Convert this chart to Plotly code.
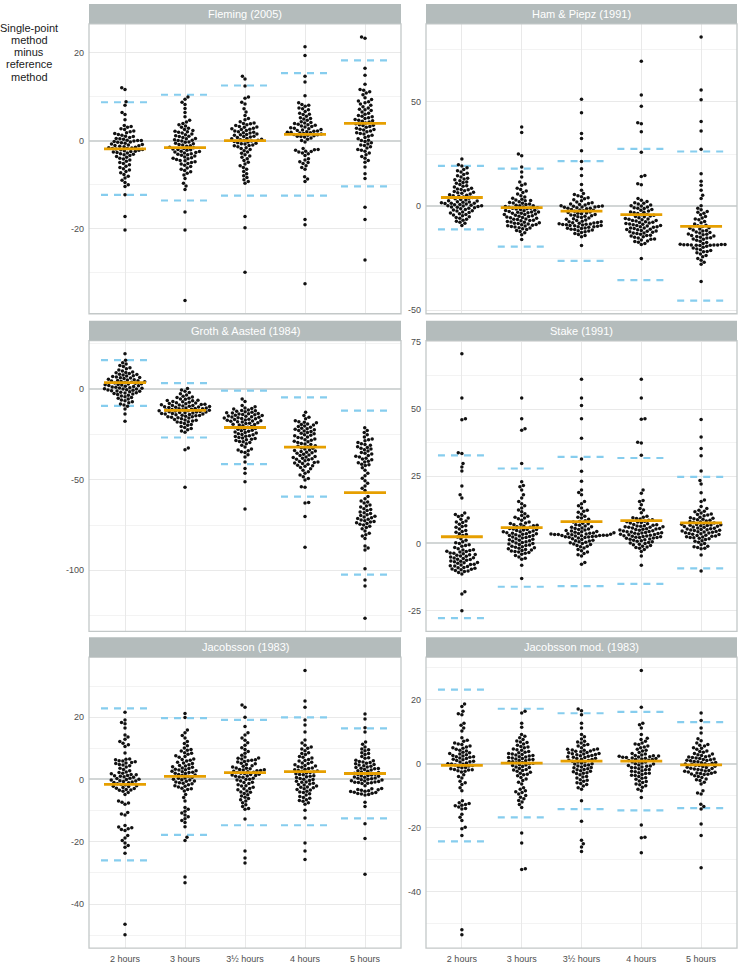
import plotly.graph_objects as go

W, H = 739, 964

PANELS = ['Fleming (2005)', 'Ham & Piepz (1991)', 'Groth & Aasted (1984)',
          'Stake (1991)', 'Jacobsson (1983)', 'Jacobsson mod. (1983)']
TIMES = ['2 hours', '3 hours', '3½ hours', '4 hours', '5 hours']

# ---- Fleming (2005) ----
fleming_2h = [12.0, 11.6, 8.8, 8.0, 6.4, 5.9, 4.7, 3.4, 3.2, 3.0, 2.7, 2.5, 2.2, 2.0, 1.8, 1.6, 1.4, 1.2, 1.0, 0.9,
              0.7, 0.5, 0.4, 0.3, 0.1, 0.0, 0.0, -0.1, -0.2, -0.3, -0.4, -0.5, -0.6, -0.8, -0.9, -1.0, -1.1, -1.2,
              -1.3, -1.4, -1.5, -1.6, -1.7, -1.8, -1.8, -1.9, -2.0, -2.1, -2.2, -2.3, -2.4, -2.5, -2.6, -2.7, -2.8,
              -3.0, -3.1, -3.2, -3.4, -3.6, -3.8, -4.0, -4.2, -4.4, -4.7, -5.0, -5.2, -5.5, -5.8, -6.1, -6.4, -6.7,
              -7.0, -7.3, -7.7, -8.1, -8.5, -9.0, -9.5, -10.0, -10.4, -12.3, -17.2, -20.3]
fleming_3h = [9.9, 9.4, 8.7, 8.2, 7.3, 6.4, 5.4, 4.6, 4.2, 3.9, 3.6, 3.3, 3.0, 2.8, 2.5, 2.3, 2.1, 2.0, 1.9, 1.7, 1.5,
              1.3, 1.1, 1.0, 0.9, 0.7, 0.5, 0.4, 0.2, 0.1, 0.0, -0.1, -0.3, -0.4, -0.6, -0.7, -0.9, -1.0, -1.2, -1.3,
              -1.5, -1.6, -1.8, -1.9, -2.0, -2.1, -2.2, -2.4, -2.5, -2.6, -2.7, -2.8, -3.0, -3.1, -3.2, -3.3, -3.5,
              -3.7, -3.9, -4.0, -4.1, -4.3, -4.5, -4.6, -4.8, -5.0, -5.2, -5.3, -5.6, -5.9, -6.2, -6.5, -6.8, -7.1,
              -7.4, -7.8, -8.6, -9.7, -10.3, -11.1, -16.2, -20.3, -36.3]
fleming_35h = [14.6, 14.0, 12.4, 9.9, 9.6, 8.7, 8.3, 7.2, 6.5, 5.7, 5.0, 4.7, 4.3, 4.0, 3.9, 3.8, 3.6, 3.4, 3.2, 3.1,
               3.0, 2.8, 2.7, 2.6, 2.5, 2.3, 2.2, 2.0, 1.9, 1.8, 1.7, 1.5, 1.4, 1.3, 1.2, 1.0, 0.9, 0.8, 0.7, 0.5,
               0.4, 0.3, 0.2, 0.1, 0.0, -0.1, -0.2, -0.3, -0.5, -0.6, -0.7, -0.8, -1.0, -1.1, -1.2, -1.4, -1.6, -1.8,
               -2.0, -2.3, -2.6, -2.9, -3.2, -3.5, -3.8, -4.1, -4.5, -4.9, -5.3, -5.7, -6.1, -6.5, -7.0, -7.5, -8.0,
               -8.4, -8.9, -9.3, -9.7, -17.2, -19.8, -29.9]
fleming_4h = [21.3, 19.3, 14.6, 13.3, 10.2, 8.6, 8.2, 8.0, 7.8, 7.4, 7.2, 7.0, 6.6, 6.2, 6.0, 5.9, 5.5, 5.2, 5.0, 4.9,
              4.6, 4.3, 4.1, 4.0, 3.9, 3.7, 3.6, 3.5, 3.3, 3.2, 3.1, 2.9, 2.8, 2.7, 2.5, 2.4, 2.3, 2.2, 2.1, 2.0, 1.9,
              1.9, 1.8, 1.7, 1.6, 1.5, 1.4, 1.3, 1.2, 1.1, 1.0, 0.9, 0.8, 0.6, 0.3, 0.0, -0.3, -1.8, -2.0, -2.1,
              -2.2, -2.4, -2.5, -2.6, -2.8, -3.0, -3.4, -4.1, -4.4, -4.8, -5.0, -5.2, -5.7, -6.1, -6.5, -8.2, -8.7,
              -9.3, -17.9, -19.1, -32.5]
fleming_5h = [23.5, 23.2, 16.4, 14.8, 12.8, 11.6, 11.4, 11.1, 10.8, 10.4, 9.7, 9.3, 9.0, 8.8, 8.6, 8.3, 8.0, 7.7, 7.4,
              7.1, 7.0, 6.8, 6.5, 6.2, 6.0, 5.7, 5.5, 5.4, 5.2, 5.0, 4.8, 4.6, 4.5, 4.4, 4.2, 4.0, 3.8, 3.6, 3.5,
              3.4, 3.2, 3.0, 2.8, 2.6, 2.5, 2.4, 2.2, 2.0, 1.8, 1.6, 1.5, 1.2, 1.0, 0.7, 0.4, 0.1, 0.0, -0.2, -0.5,
              -0.8, -1.0, -1.1, -1.4, -1.7, -2.0, -2.2, -2.4, -2.8, -3.2, -3.6, -4.0, -4.5, -4.9, -6.0, -7.5, -8.6,
              -15.1, -17.9, -27.1]
fleming_mean = [-1.9, -1.6, 0.0, 1.4, 3.9]
fleming_lower = [-12.3, -13.6, -12.5, -12.5, -10.4]
fleming_upper = [8.7, 10.4, 12.5, 15.3, 18.2]

# ---- Ham & Piepz (1991) ----
ham_2h = [22.6, 19.8, 19.2, 18.4, 17.6, 17.0, 16.4, 15.8, 15.2, 14.6, 14.0, 13.4, 13.0, 12.6, 12.2, 11.6, 11.3, 11.0,
          10.4, 9.8, 9.5, 9.2, 8.6, 8.2, 8.0, 7.8, 7.4, 7.0, 6.6, 6.4, 6.2, 5.8, 5.4, 5.2, 5.0, 4.7, 4.4, 4.1, 3.8,
          3.5, 3.2, 2.9, 2.6, 2.4, 2.1, 2.0, 1.8, 1.6, 1.4, 1.3, 1.2, 1.0, 0.8, 0.6, 0.4, 0.2, 0.1, 0.0, -0.2,
          -0.4, -0.6, -0.8, -1.0, -1.3, -1.6, -1.9, -2.2, -2.4, -2.8, -3.1, -3.3, -3.7, -4.0, -4.3, -4.7, -5.1,
          -5.5, -5.9, -6.3, -6.8, -7.3, -7.8, -8.3, -9.3]
ham_3h = [38.0, 35.3, 25.0, 24.2, 18.7, 16.3, 13.9, 11.5, 10.6, 10.0, 8.6, 7.9, 7.2, 6.5, 5.8, 5.0, 4.4, 3.8, 3.3,
          2.9, 2.7, 2.5, 2.1, 1.7, 1.5, 1.3, 1.0, 0.7, 0.4, 0.2, 0.1, -0.2, -0.5, -0.6, -0.8, -1.0, -1.1, -1.3,
          -1.4, -1.7, -2.0, -2.1, -2.3, -2.6, -2.8, -2.9, -3.0, -3.2, -3.4, -3.5, -3.8, -4.0, -4.1, -4.4, -4.7,
          -4.9, -5.0, -5.3, -5.5, -5.6, -5.9, -6.2, -6.4, -6.5, -6.8, -7.0, -7.1, -7.4, -7.7, -7.8, -8.0, -8.3,
          -8.4, -8.6, -8.9, -9.0, -9.2, -9.5, -9.6, -9.8, -10.1, -10.4, -10.5, -10.9, -11.3, -11.7, -12.2, -12.8,
          -13.8, -16.1]
ham_35h = [51.3, 44.8, 34.8, 32.4, 26.6, 21.4, 17.9, 14.7, 10.3, 7.6, 6.0, 5.5, 5.0, 4.5, 4.0, 3.5, 3.0, 2.5, 2.0,
           1.6, 1.2, 1.0, 0.8, 0.5, 0.2, 0.0, -0.1, -0.2, -0.4, -0.5, -0.6, -0.8, -1.0, -1.1, -1.3, -1.6, -1.9,
           -2.0, -2.2, -2.5, -2.8, -3.1, -3.3, -3.4, -3.7, -4.0, -4.3, -4.4, -4.6, -4.9, -5.2, -5.5, -5.8, -6.1,
           -6.4, -6.7, -7.0, -7.3, -7.5, -7.6, -7.9, -8.0, -8.1, -8.3, -8.5, -8.6, -8.7, -8.9, -9.0, -9.1, -9.3,
           -9.4, -9.5, -9.7, -9.9, -10.0, -10.2, -10.5, -10.7, -10.8, -11.1, -11.3, -11.5, -11.9, -12.0, -12.3,
           -12.7, -13.2, -13.7, -14.2, -14.7, -19.0]
ham_4h = [69.6, 53.4, 47.9, 40.0, 39.5, 35.7, 25.8, 14.7, 14.2, 10.7, 10.2, 3.6, 2.8, 2.2, 1.6, 1.3, 1.0, 0.5, 0.2,
          0.0, -0.4, -0.8, -1.0, -1.2, -1.6, -2.0, -2.4, -2.8, -3.0, -3.2, -3.6, -4.0, -4.2, -4.4, -4.8, -5.0,
          -5.2, -5.6, -6.0, -6.2, -6.3, -6.6, -6.9, -7.0, -7.2, -7.5, -7.8, -7.9, -8.1, -8.4, -8.6, -8.7, -9.0,
          -9.3, -9.4, -9.6, -9.9, -10.0, -10.2, -10.5, -10.6, -10.8, -11.1, -11.3, -11.4, -11.7, -12.0, -12.1,
          -12.3, -12.6, -12.9, -13.0, -13.2, -13.6, -14.0, -14.2, -14.4, -14.8, -15.0, -15.3, -15.8, -16.0,
          -16.3, -16.8, -17.0, -17.4, -18.0, -18.5, -25.2]
ham_5h = [81.2, 55.8, 51.1, 40.6, 36.1, 27.3, 15.5, 11.9, 10.0, 7.6, 5.2, 3.6, 0.1, -1.0, -1.8, -2.6, -3.0, -3.4,
          -4.2, -5.0, -5.8, -6.2, -6.6, -7.4, -8.0, -8.6, -9.2, -9.5, -9.8, -10.4, -10.7, -11.0, -11.5, -11.7,
          -12.0, -12.5, -12.7, -13.0, -13.4, -13.6, -13.8, -14.2, -14.4, -14.6, -15.0, -15.2, -15.4, -15.8, -16.0,
          -16.4, -16.9, -17.5, -18.0, -18.4, -18.5, -18.5, -18.6, -18.6, -18.7, -18.7, -18.7, -18.8, -18.8, -18.9,
          -19.3, -19.8, -20.2, -20.6, -21.0, -21.3, -21.8, -22.0, -22.4, -23.0, -23.7, -24.4, -25.2, -26.0, -27.0,
          -28.0, -36.3]
ham_mean = [4.1, -0.8, -2.4, -4.1, -9.8]
ham_lower = [-11.2, -19.5, -26.3, -35.6, -45.4]
ham_upper = [19.3, 18.0, 21.6, 27.5, 26.2]

# ---- Groth & Aasted (1984) ----
groth_2h = [19.5, 15.9, 14.6, 13.8, 13.0, 12.4, 11.8, 11.2, 10.6, 10.0, 9.5, 9.2, 9.0, 8.6, 8.2, 8.0, 7.8, 7.4, 7.2,
            7.0, 6.7, 6.4, 6.2, 6.1, 5.8, 5.5, 5.2, 5.0, 4.8, 4.6, 4.4, 4.2, 4.0, 3.8, 3.6, 3.4, 3.2, 3.0, 2.8, 2.6,
            2.4, 2.2, 2.0, 1.8, 1.6, 1.4, 1.2, 1.0, 0.8, 0.6, 0.4, 0.2, 0.1, 0.0, -0.3, -0.5, -0.6, -0.9, -1.0,
            -1.2, -1.5, -1.8, -2.0, -2.1, -2.4, -2.7, -3.0, -3.4, -3.8, -4.2, -4.6, -5.0, -5.5, -6.0, -6.5, -7.0,
            -7.6, -8.2, -8.8, -9.5, -11.0, -13.7, -17.7]
groth_3h = [0.3, -0.5, -1.2, -1.9, -2.6, -3.3, -4.0, -4.3, -4.6, -5.1, -5.4, -5.6, -6.1, -6.3, -6.5, -6.9, -7.0,
            -7.3, -7.5, -7.7, -8.0, -8.1, -8.4, -8.5, -8.7, -8.8, -9.0, -9.1, -9.3, -9.5, -9.6, -9.7, -9.9, -10.0,
            -10.2, -10.4, -10.5, -10.7, -10.8, -10.9, -11.1, -11.2, -11.4, -11.6, -11.7, -11.9, -12.0, -12.1,
            -12.3, -12.5, -12.6, -12.7, -12.9, -13.0, -13.2, -13.4, -13.5, -13.7, -13.8, -14.0, -14.1, -14.4,
            -14.6, -14.7, -15.0, -15.2, -15.3, -15.6, -15.8, -16.0, -16.4, -16.8, -17.0, -17.2, -17.6, -18.0,
            -18.2, -18.5, -19.0, -19.5, -20.0, -20.6, -21.2, -21.8, -22.4, -23.1, -23.8, -32.5, -33.4, -54.2]
groth_35h = [-5.5, -6.8, -9.1, -9.8, -10.4, -10.7, -11.0, -11.5, -11.8, -12.0, -12.2, -12.5, -12.8, -13.0, -13.2,
             -13.4, -13.6, -13.8, -14.0, -14.2, -14.4, -14.6, -14.8, -15.0, -15.2, -15.4, -15.6, -15.8, -16.0,
             -16.2, -16.4, -16.6, -16.8, -17.0, -17.2, -17.4, -17.6, -17.8, -18.0, -18.2, -18.6, -18.8, -19.0,
             -19.4, -19.6, -19.8, -20.2, -20.7, -21.0, -21.2, -21.7, -22.0, -22.2, -22.7, -23.0, -23.2, -23.7,
             -24.0, -24.2, -24.7, -25.0, -25.2, -25.7, -26.0, -26.2, -26.7, -27.0, -27.2, -27.7, -28.0, -28.3,
             -28.9, -29.0, -29.5, -30.1, -31.0, -32.0, -33.0, -33.6, -34.0, -34.6, -35.0, -36.2, -37.4, -40.2,
             -43.8, -46.5, -51.1, -66.2]
groth_4h = [-12.8, -14.6, -15.5, -16.4, -17.4, -18.0, -18.3, -18.6, -19.2, -19.5, -19.8, -20.4, -20.7, -21.0, -21.6,
            -21.9, -22.2, -22.5, -22.8, -23.1, -23.4, -24.0, -24.3, -24.6, -25.2, -25.5, -25.8, -26.4, -26.7, -27.0,
            -27.6, -27.9, -28.2, -28.8, -29.1, -29.4, -30.0, -30.3, -30.6, -31.2, -31.5, -31.8, -32.4, -32.7,
            -33.0, -33.6, -33.9, -34.2, -34.5, -34.8, -35.1, -35.4, -36.0, -36.3, -36.6, -37.2, -37.5, -37.8,
            -38.1, -38.4, -38.7, -39.0, -39.6, -39.9, -40.2, -40.5, -40.8, -41.1, -41.4, -42.0, -42.3, -42.6,
            -43.3, -44.0, -44.8, -45.6, -46.5, -47.4, -48.4, -49.3, -50.2, -53.9, -54.2, -62.6, -62.9, -70.3,
            -87.2]
groth_5h = [-21.3, -22.8, -24.0, -25.2, -26.5, -27.5, -28.0, -28.5, -29.4, -30.2, -30.6, -31.0, -31.8, -32.2, -32.6,
            -33.0, -33.4, -34.2, -35.0, -35.4, -35.8, -36.6, -37.0, -37.4, -38.2, -38.6, -39.0, -39.8, -40.2,
            -40.6, -41.4, -41.8, -42.2, -43.4, -44.8, -46.5, -47.8, -49.2, -50.6, -52.0, -53.4, -54.7, -56.0,
            -59.3, -60.5, -61.7, -62.3, -62.9, -64.0, -64.5, -65.0, -66.0, -66.5, -67.0, -67.8, -68.2, -68.6,
            -69.4, -69.8, -70.2, -70.6, -71.0, -71.4, -71.8, -72.2, -72.6, -73.0, -73.4, -73.8, -74.2, -74.6,
            -75.0, -75.7, -76.4, -77.0, -78.3, -79.6, -80.3, -81.0, -82.4, -86.6, -87.7, -88.8, -99.1, -105.3,
            -108.6, -126.4]
groth_mean = [3.6, -11.7, -21.2, -32.0, -57.1]
groth_lower = [-9.3, -26.7, -41.4, -59.3, -102.4]
groth_upper = [16.0, 3.3, -0.9, -4.6, -11.9]

# ---- Stake (1991) ----
stake_2h = [70.6, 54.1, 46.4, 46.0, 33.8, 33.5, 29.8, 28.5, 27.0, 21.4, 18.1, 16.9, 11.3, 10.8, 10.4, 10.0, 9.5,
            9.0, 8.4, 8.0, 7.8, 7.2, 6.6, 6.3, 6.0, 5.4, 4.8, 4.5, 4.2, 3.6, 3.3, 3.0, 2.4, 1.8, 1.2, 0.6, 0.3, 0.0,
            -0.5, -0.8, -1.0, -1.5, -2.0, -2.3, -2.4, -2.6, -2.9, -3.0, -3.2, -3.5, -3.6, -3.8, -4.1, -4.2, -4.4,
            -4.7, -4.8, -5.0, -5.3, -5.4, -5.6, -5.9, -6.0, -6.2, -6.5, -6.6, -6.8, -7.1, -7.2, -7.4, -7.7, -7.8,
            -8.0, -8.3, -8.4, -8.6, -8.9, -9.0, -9.2, -9.5, -9.6, -9.8, -10.1, -10.2, -10.4, -10.8, -11.4, -18.0,
            -18.8, -25.0]
stake_3h = [54.1, 46.4, 42.7, 42.1, 29.8, 23.0, 21.6, 21.1, 19.9, 18.1, 16.9, 15.6, 14.8, 14.0, 13.2, 12.5, 11.8,
            11.1, 10.4, 10.1, 9.8, 9.5, 9.2, 8.6, 8.0, 7.6, 7.4, 7.2, 7.0, 6.8, 6.6, 6.4, 6.2, 6.0, 5.8, 5.6, 5.4,
            5.2, 5.2, 5.0, 4.8, 4.6, 4.4, 4.4, 4.2, 4.0, 3.8, 3.6, 3.6, 3.4, 3.2, 3.0, 3.0, 2.8, 2.6, 2.4, 2.2, 2.0,
            1.8, 1.6, 1.4, 1.2, 1.0, 0.8, 0.6, 0.4, 0.2, 0.0, -0.2, -0.4, -0.6, -0.8, -1.0, -1.2, -1.4, -1.6,
            -1.8, -2.0, -2.2, -2.4, -2.6, -2.8, -3.0, -3.2, -3.4, -3.6, -4.0, -4.5, -5.0, -5.5, -5.9, -8.1, -13.0]
stake_35h = [61.1, 54.1, 51.3, 46.4, 39.2, 31.4, 26.9, 23.2, 19.9, 19.0, 18.1, 15.6, 14.8, 14.0, 13.2, 12.4, 12.0,
             11.6, 10.9, 10.1, 9.8, 9.5, 9.0, 8.5, 8.2, 8.0, 7.5, 7.3, 7.0, 6.8, 6.5, 6.2, 6.0, 5.8, 5.6, 5.4, 5.2,
             5.0, 4.8, 4.6, 4.5, 4.4, 4.2, 4.0, 3.9, 3.8, 3.7, 3.6, 3.5, 3.5, 3.4, 3.3, 3.3, 3.2, 3.1, 3.1, 3.0,
             3.0, 2.9, 2.8, 2.7, 2.6, 2.5, 2.4, 2.3, 2.2, 2.0, 1.8, 1.5, 1.2, 1.0, 0.9, 0.6, 0.5, 0.3, 0.0, -0.2,
             -0.4, -0.8, -1.0, -1.2, -1.7, -2.2, -2.7, -3.2, -3.7, -4.2, -4.7, -7.1, -7.7]
stake_4h = [61.1, 54.1, 46.4, 46.2, 37.7, 37.4, 32.8, 19.9, 18.7, 16.0, 15.6, 14.4, 13.0, 12.5, 11.4, 10.1, 9.8,
            9.6, 9.3, 9.1, 8.8, 8.6, 8.3, 8.1, 8.0, 7.8, 7.6, 7.3, 7.1, 7.0, 6.8, 6.6, 6.5, 6.4, 6.2, 6.2, 6.0, 6.0,
            5.8, 5.6, 5.5, 5.4, 5.3, 5.2, 5.0, 4.9, 4.7, 4.6, 4.5, 4.4, 4.3, 4.1, 4.0, 3.9, 3.8, 3.7, 3.5, 3.4,
            3.3, 3.2, 3.1, 2.9, 2.8, 2.7, 2.6, 2.5, 2.3, 2.2, 2.2, 2.0, 1.9, 1.7, 1.6, 1.4, 1.2, 1.0, 0.8, 0.6,
            0.4, 0.2, 0.0, -0.3, -0.5, -0.8, -1.0, -1.3, -1.5, -1.8, -2.2, -3.0, -4.7, -8.1]
stake_5h = [46.1, 39.6, 35.3, 32.6, 27.0, 23.4, 22.1, 18.9, 16.2, 15.6, 13.8, 13.0, 12.4, 12.0, 11.8, 11.3, 11.0,
            10.8, 10.6, 10.3, 9.8, 9.6, 9.4, 9.2, 9.0, 8.8, 8.6, 8.4, 8.2, 8.0, 7.8, 7.6, 7.4, 7.2, 7.1, 7.0, 6.9,
            6.8, 6.7, 6.6, 6.4, 6.3, 6.1, 6.0, 5.8, 5.7, 5.5, 5.4, 5.2, 5.1, 5.0, 4.9, 4.8, 4.6, 4.5, 4.4, 4.3,
            4.2, 4.0, 3.9, 3.7, 3.6, 3.4, 3.3, 3.1, 3.0, 2.8, 2.7, 2.5, 2.4, 2.2, 2.1, 1.9, 1.8, 1.5, 1.0, 0.8,
            0.5, 0.0, -0.5, -1.0, -1.2, -1.5, -1.8, -2.0, -4.3, -10.2]
stake_mean = [2.5, 5.9, 8.1, 8.5, 7.7]
stake_lower = [-27.8, -16.1, -15.9, -15.0, -9.3]
stake_upper = [32.8, 27.9, 32.2, 31.8, 24.8]

# ---- Jacobsson (1983) ----
jac_2h = [21.6, 19.1, 18.3, 17.9, 16.5, 14.3, 13.6, 12.9, 12.2, 11.6, 11.1, 10.6, 8.5, 6.6, 6.5, 6.3, 6.0, 5.9,
          5.7, 5.4, 5.3, 5.1, 4.8, 4.6, 4.4, 4.0, 3.6, 3.2, 2.8, 2.4, 2.2, 2.0, 1.8, 1.6, 1.5, 1.3, 1.2, 1.0, 0.9,
          0.7, 0.4, 0.3, 0.1, 0.0, -0.2, -0.4, -0.5, -0.7, -0.8, -1.0, -1.1, -1.4, -1.6, -1.7, -2.0, -2.2, -2.3,
          -2.6, -2.8, -2.9, -3.2, -3.4, -3.5, -3.8, -4.2, -4.8, -6.9, -7.3, -7.6, -8.0, -10.6, -11.1, -11.4,
          -14.8, -15.3, -15.5, -15.8, -16.1, -16.4, -18.0, -18.8, -19.6, -20.4, -21.2, -21.8, -23.7, -46.5, -49.9]
jac_3h = [21.2, 19.9, 15.9, 15.0, 14.1, 13.3, 12.2, 11.5, 10.8, 10.1, 9.6, 9.4, 9.1, 8.6, 8.4, 8.1, 7.6, 7.4, 7.1,
          6.6, 6.4, 6.2, 5.9, 5.5, 5.3, 5.1, 4.7, 4.5, 4.3, 4.1, 3.9, 3.7, 3.5, 3.3, 3.1, 3.0, 2.8, 2.6, 2.5, 2.3,
          2.2, 2.0, 1.9, 1.6, 1.4, 1.3, 1.0, 0.7, 0.5, 0.4, 0.1, -0.1, -0.2, -0.5, -0.6, -0.8, -1.1, -1.2, -1.4,
          -1.7, -2.0, -2.2, -2.4, -2.8, -3.0, -3.2, -3.7, -4.8, -5.8, -6.9, -9.0, -9.6, -10.2, -10.8, -11.4,
          -12.0, -12.6, -13.2, -13.8, -15.2, -18.6, -19.6, -31.3, -33.2]
jac_35h = [23.9, 23.2, 20.0, 17.0, 15.0, 14.3, 13.3, 12.6, 11.8, 11.0, 10.2, 9.6, 9.0, 8.4, 7.8, 7.2, 6.9, 6.8,
           6.6, 6.3, 6.2, 6.0, 5.8, 5.6, 5.2, 5.0, 4.8, 4.4, 4.2, 4.0, 3.7, 3.6, 3.4, 3.2, 3.1, 3.0, 2.9, 2.8,
           2.6, 2.5, 2.3, 2.2, 2.0, 1.9, 1.7, 1.6, 1.4, 1.3, 1.1, 1.0, 0.8, 0.7, 0.4, 0.1, 0.0, -0.2, -0.5, -0.9,
           -1.0, -1.3, -1.7, -2.0, -2.1, -2.5, -2.9, -3.0, -3.3, -3.7, -4.0, -4.1, -4.5, -4.9, -5.3, -5.7, -6.1,
           -6.5, -6.9, -7.5, -8.1, -8.7, -9.3, -9.6, -12.7, -23.0, -25.2, -26.8]
jac_4h = [35.0, 25.2, 23.2, 19.1, 17.5, 15.2, 12.7, 11.7, 11.0, 10.4, 10.0, 9.8, 9.2, 8.6, 8.3, 8.0, 7.4, 7.1, 6.9,
          6.4, 6.1, 5.9, 5.5, 5.3, 5.1, 4.7, 4.5, 4.3, 4.1, 3.9, 3.7, 3.5, 3.3, 3.1, 2.9, 2.7, 2.6, 2.4, 2.2, 2.1,
          1.8, 1.6, 1.5, 1.2, 1.0, 0.9, 0.6, 0.3, 0.1, 0.0, -0.3, -0.6, -0.8, -0.9, -1.2, -1.5, -1.6, -1.8, -2.1,
          -2.4, -2.5, -2.7, -3.0, -3.2, -3.4, -3.8, -4.0, -4.2, -4.6, -5.0, -5.5, -5.8, -6.0, -6.5, -6.8, -7.0,
          -7.5, -8.0, -9.9, -12.4, -20.4, -23.0, -25.7]
jac_5h = [21.0, 19.4, 16.6, 15.2, 12.0, 11.3, 10.4, 9.8, 9.5, 9.2, 8.6, 8.3, 8.0, 7.4, 7.0, 6.8, 6.2, 6.0, 5.8,
          5.6, 5.4, 5.2, 5.0, 4.8, 4.6, 4.4, 4.2, 4.0, 3.8, 3.6, 3.5, 3.4, 3.2, 3.0, 2.8, 2.6, 2.4, 2.2, 2.0, 1.9,
          1.7, 1.6, 1.4, 1.3, 1.1, 1.0, 0.8, 0.7, 0.5, 0.4, 0.2, 0.1, -0.1, -0.2, -0.4, -0.5, -0.7, -0.8, -0.9,
          -1.0, -1.1, -1.2, -1.3, -2.0, -2.9, -3.0, -3.2, -3.3, -3.5, -3.6, -3.8, -3.9, -4.1, -4.2, -4.4, -4.5,
          -4.7, -4.8, -5.0, -7.3, -8.7, -14.2, -19.0, -30.4]
jac_mean = [-1.6, 1.0, 2.2, 2.5, 1.9]
jac_lower = [-26.0, -17.8, -14.7, -14.7, -12.5]
jac_upper = [22.8, 19.7, 19.1, 19.9, 16.4]

# ---- Jacobsson mod. (1983) ----
jacm_2h = [18.7, 17.9, 16.4, 15.6, 15.3, 12.7, 12.0, 11.2, 10.2, 8.1, 7.3, 7.0, 6.5, 6.2, 6.0, 5.5, 5.2, 5.0, 4.8,
           4.5, 4.2, 4.0, 3.6, 3.4, 3.2, 3.0, 2.8, 2.6, 2.4, 2.2, 2.2, 2.0, 1.8, 1.6, 1.4, 1.2, 1.0, 0.8, 0.6, 0.5,
           0.2, 0.0, -0.1, -0.2, -0.4, -0.6, -0.7, -1.0, -1.2, -1.3, -1.6, -1.8, -1.9, -2.0, -2.2, -2.4, -2.6,
           -3.5, -4.0, -4.5, -5.5, -6.0, -6.5, -7.5, -8.5, -11.6, -12.2, -12.5, -12.8, -13.0, -13.2, -13.6,
           -14.0, -14.2, -15.8, -16.8, -17.8, -19.9, -20.4, -22.5, -52.0, -53.6]
jacm_3h = [16.4, 15.9, 12.7, 11.4, 9.1, 8.6, 8.1, 7.6, 7.1, 6.8, 6.6, 6.2, 5.8, 5.4, 5.2, 5.0, 4.6, 4.4, 4.2, 3.8,
           3.6, 3.4, 3.2, 3.0, 2.9, 2.7, 2.6, 2.4, 2.2, 2.1, 1.9, 1.8, 1.6, 1.5, 1.3, 1.2, 1.0, 0.9, 0.7, 0.6, 0.4,
           0.3, 0.1, 0.0, -0.3, -0.4, -0.6, -0.9, -1.0, -1.2, -1.5, -1.8, -2.0, -2.1, -2.4, -2.7, -3.0, -3.3,
           -3.5, -3.8, -4.3, -4.8, -5.3, -5.8, -6.4, -7.5, -8.0, -8.5, -8.8, -9.0, -9.5, -10.0, -10.5, -11.0,
           -11.5, -12.0, -12.8, -13.7, -21.7, -24.8, -32.9, -33.1]
jacm_35h = [17.1, 16.6, 15.3, 12.7, 11.2, 9.1, 8.4, 7.7, 7.0, 6.8, 6.5, 6.0, 5.8, 5.5, 5.0, 4.6, 4.5, 4.4, 4.3, 4.2,
            4.0, 3.9, 3.7, 3.5, 3.4, 3.2, 3.1, 3.0, 2.9, 2.8, 2.6, 2.5, 2.3, 2.2, 2.0, 1.9, 1.7, 1.6, 1.4, 1.3,
            1.1, 1.0, 0.8, 0.6, 0.5, 0.2, 0.0, -0.1, -0.4, -0.6, -0.7, -1.0, -1.2, -1.3, -1.6, -1.8, -1.9, -2.2,
            -2.4, -2.5, -2.8, -3.0, -3.1, -3.5, -4.0, -4.2, -4.5, -5.0, -5.2, -5.5, -6.0, -6.2, -6.5, -7.0, -7.5,
            -8.0, -11.6, -18.0, -24.0, -25.1, -26.1, -27.5]
jacm_4h = [29.2, 17.7, 12.7, 12.2, 11.2, 9.1, 8.0, 7.6, 7.0, 6.5, 6.2, 6.0, 5.5, 5.2, 5.0, 4.5, 4.2, 4.0, 3.5, 3.2,
           3.0, 2.7, 2.6, 2.5, 2.4, 2.3, 2.2, 2.1, 2.0, 1.9, 1.8, 1.7, 1.6, 1.5, 1.4, 1.3, 1.1, 1.0, 0.8, 0.6, 0.5,
           0.2, 0.0, -0.1, -0.4, -0.6, -0.7, -0.8, -1.0, -1.2, -1.3, -1.6, -1.8, -1.9, -2.2, -2.4, -2.5, -2.8,
           -3.0, -3.1, -3.4, -3.6, -3.7, -4.0, -4.4, -4.6, -4.9, -5.4, -5.6, -5.9, -6.4, -6.6, -6.9, -7.4, -8.0,
           -8.5, -10.6, -19.2, -23.0, -23.2, -27.9]
jacm_5h = [15.9, 13.5, 11.2, 9.6, 7.8, 7.2, 6.5, 6.0, 5.8, 5.5, 5.0, 4.8, 4.5, 4.0, 3.8, 3.6, 3.2, 3.0, 2.8, 2.6,
           2.4, 2.2, 2.1, 1.9, 1.8, 1.6, 1.5, 1.3, 1.2, 1.1, 1.0, 0.9, 0.7, 0.6, 0.4, 0.3, 0.1, 0.0, -0.1, -0.2,
           -0.3, -0.5, -0.6, -0.8, -0.9, -1.1, -1.2, -1.4, -1.5, -1.7, -1.8, -2.0, -2.1, -2.3, -2.4, -2.6, -2.7,
           -2.9, -3.0, -3.1, -3.2, -3.3, -3.4, -3.8, -4.0, -4.3, -4.8, -5.0, -5.3, -5.8, -6.4, -8.5, -9.2, -9.5,
           -12.7, -13.4, -14.2, -18.9, -22.5, -32.6]
jacm_mean = [-0.5, 0.2, 0.8, 0.8, -0.4]
jacm_lower = [-24.3, -16.8, -14.2, -14.6, -13.9]
jacm_upper = [23.2, 17.2, 15.8, 16.2, 13.0]

PANEL_DATA = [
    ([fleming_2h, fleming_3h, fleming_35h, fleming_4h, fleming_5h], fleming_mean, fleming_lower, fleming_upper, 20),
    ([ham_2h, ham_3h, ham_35h, ham_4h, ham_5h], ham_mean, ham_lower, ham_upper, 50),
    ([groth_2h, groth_3h, groth_35h, groth_4h, groth_5h], groth_mean, groth_lower, groth_upper, 50),
    ([stake_2h, stake_3h, stake_35h, stake_4h, stake_5h], stake_mean, stake_lower, stake_upper, 25),
    ([jac_2h, jac_3h, jac_35h, jac_4h, jac_5h], jac_mean, jac_lower, jac_upper, 20),
    ([jacm_2h, jacm_3h, jacm_35h, jacm_4h, jacm_5h], jacm_mean, jacm_lower, jacm_upper, 20),
]

# page geometry (pixels from top-left)
COLS = [(89, 401), (426, 737)]
ROWS = [((1, 21), (21, 313)), ((320, 340), (340, 633)), ((639, 659), (659, 952))]

STRIP = '#b4bcbc'
BORDER = '#c3c8c8'
GRID = '#e9e9e9'
GRID_MINOR = '#f3f3f3'
ORANGE = '#e69f00'
SKY = '#86cdee'
FONT = 'Liberation Sans, Arial, sans-serif'
DOT_GAP = 3.7


def swarm(values, px_per_unit, d=DOT_GAP):
    """Beeswarm offsets (pixels) for one group, keeping each row balanced."""
    order = sorted(range(len(values)), key=lambda i: values[i])
    placed = []
    xs = [0.0] * len(values)
    flip = 1
    for i in order:
        y = values[i] * px_per_unit
        bounds = []
        n_left = n_right = 0
        for px, py in placed:
            dy = y - py
            if abs(dy) < d:
                w = (d * d - dy * dy) ** 0.5
                bounds.append((px - w, px + w))
                if px < -0.01:
                    n_left += 1
                elif px > 0.01:
                    n_right += 1
        cands = [0.0] + [b for lo, hi in bounds for b in (lo, hi)]
        valid = [c for c in cands if all(not (lo + 1e-6 < c < hi - 1e-6) for lo, hi in bounds)]
        if 0.0 in valid:
            x = 0.0
        else:
            best_r = min([c for c in valid if c > 0], default=1e9)
            best_l = max([c for c in valid if c < 0], default=-1e9)
            if abs(abs(best_r) - abs(best_l)) > 2 * d:
                x = best_r if best_r < -best_l else best_l
            elif n_left < n_right:
                x = best_l
            elif n_right < n_left:
                x = best_r
            else:
                x = best_r if flip > 0 else best_l
                flip = -flip
        placed.append((x, y))
        xs[i] = x
    return xs


def tick_list(lo, hi, step):
    out = []
    v = int(lo // step) * step
    while v <= hi:
        if v >= lo:
            out.append(v)
        v += step
    return out


fig = go.Figure()
shapes, annotations = [], []

for k, (groups, means, lower, upper, step) in enumerate(PANEL_DATA):
    r, c = divmod(k, 2)
    (sy0, sy1), (py0, py1) = ROWS[r]
    px0, px1 = COLS[c]
    ax = '' if k == 0 else str(k + 1)

    all_vals = [v for g in groups for v in g]
    lo = min(all_vals + lower)
    hi = max(all_vals + upper)
    pad = 0.05 * (hi - lo)
    ymin, ymax = lo - pad, hi + pad
    y_ppu = (py1 - py0) / (ymax - ymin)
    x_ppu = (px1 - px0) / 5.2

    xs, ys = [], []
    for gi, g in enumerate(groups):
        offs = swarm(g, y_ppu)
        xs += [gi + 1 + o / x_ppu for o in offs]
        ys += g

    mx, my, lx, ly = [], [], [], []
    for gi in range(5):
        mx += [gi + 0.65, gi + 1.35, None]
        my += [means[gi], means[gi], None]
        for lim in (lower[gi], upper[gi]):
            lx += [gi + 0.6, gi + 1.4, None]
            ly += [lim, lim, None]

    fig.add_trace(go.Scatter(x=lx, y=ly, xaxis='x' + ax, yaxis='y' + ax, mode='lines',
                             line=dict(color=SKY, width=2.2, dash='7px,6px'), hoverinfo='skip',
                             showlegend=False))
    fig.add_trace(go.Scatter(x=xs, y=ys, xaxis='x' + ax, yaxis='y' + ax, mode='markers',
                             marker=dict(color='#111111', size=3.5, line=dict(width=0)),
                             showlegend=False))
    fig.add_trace(go.Scatter(x=mx, y=my, xaxis='x' + ax, yaxis='y' + ax, mode='lines',
                             line=dict(color=ORANGE, width=2.8), hoverinfo='skip', showlegend=False))

    major = tick_list(ymin, ymax, step)
    minor = [v for v in tick_list(ymin, ymax, step / 2) if v not in major]
    bottom = r == 2
    fig.layout['xaxis' + ax] = dict(
        domain=[px0 / W, px1 / W], range=[0.4, 5.6], anchor='y' + ax,
        tickmode='array', tickvals=[1, 2, 3, 4, 5], ticktext=TIMES,
        showticklabels=bottom, ticks='', ticklabelstandoff=4,
        showgrid=True, gridcolor=GRID, gridwidth=1,
        zeroline=False, showline=False, fixedrange=True,
        tickfont=dict(size=9, color='#4d4d4d', family=FONT),
    )
    fig.layout['yaxis' + ax] = dict(
        domain=[1 - py1 / H, 1 - py0 / H], range=[ymin, ymax], anchor='x' + ax,
        tickmode='array', tickvals=major, ticktext=[f'{v:g}' for v in major],
        ticks='', ticklabelstandoff=4, showgrid=True, gridcolor=GRID, gridwidth=1,
        minor=dict(tickmode='array', tickvals=minor, showgrid=True, gridcolor=GRID_MINOR, gridwidth=0.8),
        zeroline=True, zerolinecolor='#d2d6d6', zerolinewidth=2.2, showline=False, fixedrange=True,
        tickfont=dict(size=9, color='#4d4d4d', family=FONT),
    )

    # panel border and facet strip
    shapes.append(dict(type='rect', xref='paper', yref='paper', x0=px0 / W, x1=px1 / W,
                       y0=1 - py1 / H, y1=1 - py0 / H, line=dict(color=BORDER, width=1.3),
                       fillcolor='rgba(0,0,0,0)', layer='above'))
    shapes.append(dict(type='rect', xref='paper', yref='paper', x0=px0 / W, x1=px1 / W,
                       y0=1 - sy1 / H, y1=1 - sy0 / H, line=dict(width=0), fillcolor=STRIP))
    annotations.append(dict(text=PANELS[k], xref='paper', yref='paper', x=(px0 + px1) / 2 / W,
                            y=1 - (sy0 + sy1) / 2 / H, xanchor='center', yanchor='middle',
                            showarrow=False, font=dict(size=11, color='white', family=FONT)))

# y-axis title, one line each to keep ggplot's tight spacing
for i, line in enumerate(['Single-point', 'method', 'minus', 'reference', 'method']):
    annotations.append(dict(text=line, xref='paper', yref='paper', x=29 / W, y=1 - (25 + 12.3 * i) / H,
                            xanchor='center', yanchor='middle', showarrow=False,
                            font=dict(size=11, color='#1a1a1a', family=FONT)))

fig.update_layout(
    width=W, height=H, margin=dict(l=0, r=0, t=0, b=0),
    paper_bgcolor='white', plot_bgcolor='white',
    shapes=shapes, annotations=annotations, showlegend=False,
    font=dict(family=FONT),
)

# the page's default body margin would shift the figure by 8px
fig.write_html('out.html', config={'displayModeBar': False},
               post_script="document.body.style.margin='0px';")
